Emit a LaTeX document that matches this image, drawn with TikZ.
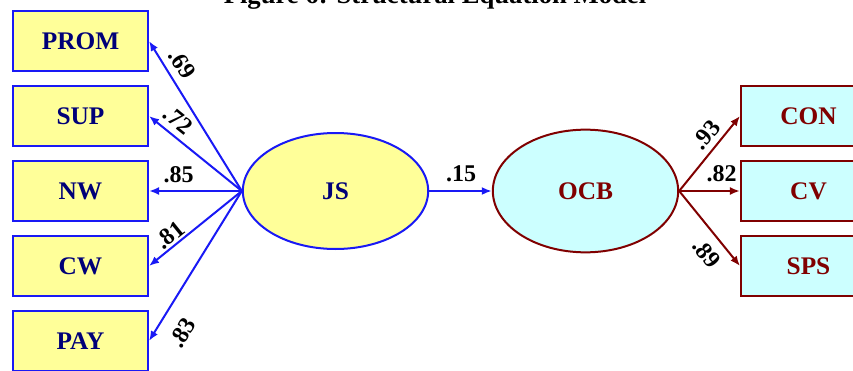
\documentclass[tikz,border=0pt]{standalone}
\usepackage{fontspec}
\setmainfont{Liberation Serif}
\usepackage{tikz}
\usetikzlibrary{arrows.meta,shapes.geometric}

\begin{document}
\begin{tikzpicture}[x=0.75pt,y=0.75pt,yscale=-1,xscale=1,
  jsbox/.style={draw={rgb, 255:red, 25; green, 25; blue, 245 }, fill={rgb, 255:red, 255; green, 255; blue, 153 }, line width=1.8pt, minimum width=101pt, minimum height=45pt, inner sep=0pt, text={rgb, 255:red, 0; green, 0; blue, 120 }, font=\fontsize{19}{19}\selectfont\bfseries},
  ocbbox/.style={draw={rgb, 255:red, 128; green, 0; blue, 0 }, fill={rgb, 255:red, 204; green, 255; blue, 255 }, line width=1.8pt, minimum width=101pt, minimum height=45pt, inner sep=0pt, text={rgb, 255:red, 128; green, 0; blue, 0 }, font=\fontsize{19}{19}\selectfont\bfseries},
  jsline/.style={draw={rgb, 255:red, 25; green, 25; blue, 245 }, line width=1.5pt, -{Latex[length=7.5pt,width=6pt]}},
  ocbline/.style={draw={rgb, 255:red, 128; green, 0; blue, 0 }, line width=1.5pt, -{Latex[length=7.5pt,width=6pt]}},
  coef/.style={font=\fontsize{18}{18}\selectfont\bfseries}]

\useasboundingbox (0,0) rectangle (853,371);
\clip (0,0) rectangle (853,371);

% Text Node
\node [font=\fontsize{20}{20}\selectfont\bfseries, anchor=base] (title) at (435,3) {Figure 6: Structural Equation Model};

%Shape: Rectangle
\node [jsbox] (prom) at (80.5,41) {PROM};
\node [jsbox] (sup) at (80.5,116) {SUP};
\node [jsbox] (nw) at (80.5,191) {NW};
\node [jsbox] (cw) at (80.5,266) {CW};
\node [jsbox] (pay) at (80.5,341) {PAY};

%Shape: Ellipse
\node [ellipse, draw={rgb, 255:red, 25; green, 25; blue, 245 }, fill={rgb, 255:red, 255; green, 255; blue, 153 }, line width=1.5pt, minimum width=139pt, minimum height=87pt, inner sep=0pt, text={rgb, 255:red, 0; green, 0; blue, 120 }, font=\fontsize{19}{19}\selectfont\bfseries] (js) at (335.5,191) {JS};
%Shape: Ellipse
\node [ellipse, draw={rgb, 255:red, 128; green, 0; blue, 0 }, fill={rgb, 255:red, 204; green, 255; blue, 255 }, line width=1.5pt, minimum width=139pt, minimum height=92pt, inner sep=0pt, text={rgb, 255:red, 128; green, 0; blue, 0 }, font=\fontsize{19}{19}\selectfont\bfseries] (ocb) at (585.5,191) {OCB};

%Shape: Rectangle
\node [ocbbox] (con) at (808.5,116) {CON};
\node [ocbbox] (cv) at (808.5,191) {CV};
\node [ocbbox] (sps) at (808.5,266) {SPS};

%Straight Lines
\draw [jsline] (js.west) -- node [coef, pos=0.79, rotate=-58.2, anchor=south, inner sep=5.1pt] {.69} (prom.east);
\draw [jsline] (js.west) -- node [coef, pos=0.79, rotate=-38.9, anchor=south, inner sep=4.4pt] {.72} (sup.east);
\draw [jsline] (js.west) -- node [coef, pos=0.68, anchor=south, inner sep=5.1pt] {.85} (nw.east);
\draw [jsline] (js.west) -- node [coef, pos=0.70, rotate=38.9, anchor=south, inner sep=1.4pt] {.81} (cw.east);
\draw [jsline] (js.west) -- node [coef, pos=0.86, rotate=58.2, anchor=north, inner sep=11pt] {.83} (pay.east);
%Straight Lines
\draw [jsline] (js.east) -- node [coef, pos=0.51, anchor=south, inner sep=5.9pt] {.15} (ocb.west);
%Straight Lines
\draw [ocbline] (ocb.east) -- node [coef, pos=0.63, rotate=50.9, anchor=south, inner sep=4.1pt] {.93} (con.west);
\draw [ocbline] (ocb.east) -- node [coef, pos=0.70, anchor=south, inner sep=5.9pt] {.82} (cv.west);
\draw [ocbline] (ocb.east) -- node [coef, pos=0.68, rotate=-50.9, anchor=north, inner sep=6.6pt] {.89} (sps.west);

\end{tikzpicture}
\end{document}
